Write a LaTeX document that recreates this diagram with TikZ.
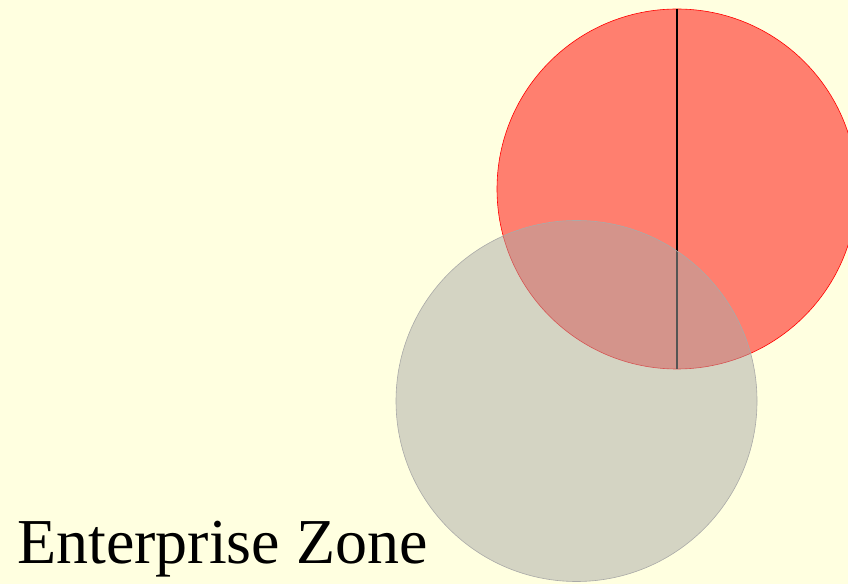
\documentclass[tikz,border=0pt]{standalone}
\usepackage{fontspec}
\setmainfont{Liberation Serif}
\usetikzlibrary{positioning,calc}
\definecolor{zonebg}{RGB}{255,255,224}
\definecolor{zonegray}{RGB}{170,170,168}
\tikzset{
    redzone/.style={circle, draw=red, fill=red, fill opacity=0.5, draw opacity=1,
        minimum size=360pt, inner sep=0pt, line width=0.6pt},
    grayzone/.style={circle, draw=zonegray, fill=zonegray, fill opacity=0.5,
        minimum size=361pt, inner sep=0pt, line width=0.6pt},
    zoneline/.style={line width=1.6pt, black},
    zonelabel/.style={font=\fontsize{64}{70}\selectfont, inner sep=0pt, anchor=base west}
}
\begin{document}
\begin{tikzpicture}[x=1pt, y=1pt]
\fill[zonebg] (0,0) rectangle (848,584);
\useasboundingbox (0,0) rectangle (848,584);
\node[redzone] (upper) at (677,395) {};
\draw[zoneline] (upper.north) -- (upper.south);
\node[grayzone] (lower) at (576.5,183) {};
\node[zonelabel] (label) at (17,21) {Enterprise Zone};
\end{tikzpicture}
\end{document}
